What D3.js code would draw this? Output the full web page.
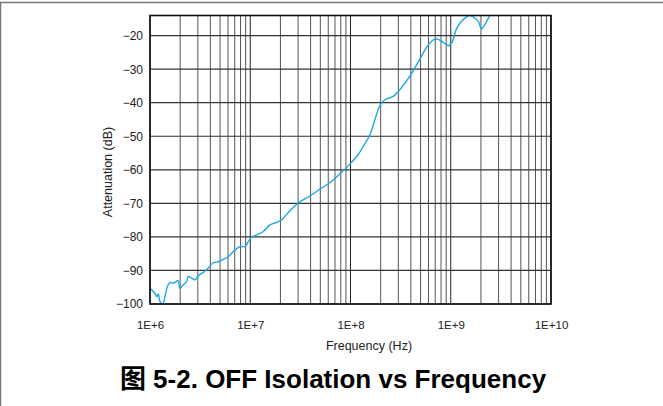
<!DOCTYPE html>
<html>
<head>
<meta charset="utf-8">
<script src="https://cdn.jsdelivr.net/npm/d3@7"></script>
<style>
  body { margin: 0; background: #fff; }
  svg { display: block; }
  text { font-family: "Liberation Sans", Arial, "Noto Sans CJK SC", sans-serif; }
</style>
</head>
<body>
<svg id="chart"></svg>
<script>
// frequency in Hz, attenuation in dB
const freqs = [
  1.00e6, 1.12e6, 1.17e6, 1.21e6, 1.26e6, 1.34e6, 1.41e6, 1.49e6, 1.58e6, 1.71e6,
  1.82e6, 1.91e6, 1.99e6, 2.15e6, 2.32e6, 2.41e6, 2.61e6, 2.81e6, 3.03e6, 3.40e6,
  3.81e6, 4.28e6, 4.80e6, 5.38e6, 6.04e6, 6.77e6, 7.89e6, 8.85e6, 9.55e6, 1.03e7,
  1.16e7, 1.35e7, 1.57e7, 1.83e7, 2.06e7, 2.49e7, 3.01e7, 3.94e7, 4.95e7, 6.24e7,
  7.84e7, 9.87e7, 1.19e8, 1.34e8, 1.56e8, 1.75e8, 1.96e8, 2.20e8, 2.67e8, 3.11e8,
  3.91e8, 4.92e8, 5.82e8, 6.68e8, 7.26e8, 7.96e8, 9.42e8, 1.02e9, 1.14e9, 1.28e9,
  1.44e9, 1.55e9, 1.67e9, 1.88e9, 2.03e9, 2.19e9, 2.45e9
];
const attenuation = [
  -95.3, -96.8, -97.8, -97.0, -99.3, -100, -97.8, -94.8, -93.6, -93.8,
  -93.3, -93.0, -95.3, -94.3, -93.3, -91.8, -92.3, -92.8, -91.6, -90.6,
  -89.3, -87.7, -87.4, -86.7, -85.9, -84.4, -82.9, -82.9, -81.4, -80.1,
  -79.4, -78.4, -76.4, -75.7, -74.9, -72.2, -69.9, -67.8, -65.8, -63.8,
  -61.2, -58.3, -55.5, -53.0, -49.6, -45.1, -40.9, -39.1, -38.1, -36.1,
  -32.1, -27.0, -23.2, -21.3, -21.0, -21.5, -23.0, -22.2, -18.0, -15.7,
  -14.4, -14.0, -14.4, -15.7, -18.0, -16.7, -14.0
];
const xTicks = [1e6, 1e7, 1e8, 1e9, 1e10];
const xTickLabels = ["1E+6", "1E+7", "1E+8", "1E+9", "1E+10"];
const yTicks = [-100, -90, -80, -70, -60, -50, -40, -30, -20];

const width = 663, height = 406;
const margin = { top: 15.5, left: 150, right: 112, bottom: 102 };

const svg = d3.select("#chart")
    .attr("width", width)
    .attr("height", height);

// outer figure frame
svg.append("rect")
    .attr("x", 0.5).attr("y", 2.5)
    .attr("width", width + 10).attr("height", height + 10)
    .attr("fill", "none")
    .attr("stroke", "#777")
    .attr("stroke-width", 1.5);

const x = d3.scaleLog()
    .domain([1e6, 1e10])
    .range([margin.left, width - margin.right]);

const y = d3.scaleLinear()
    .domain([-100, -14])
    .range([height - margin.bottom, margin.top]);

// vertical grid: 2..9 in each decade, then the decades
const minor = [];
for (let e = 6; e < 10; e++) {
    for (let k = 2; k <= 9; k++) minor.push(k * Math.pow(10, e));
}
const grid = svg.append("g");
grid.selectAll(".vminor")
    .data(minor)
    .join("line")
    .attr("x1", d => x(d)).attr("x2", d => x(d))
    .attr("y1", y.range()[1]).attr("y2", y.range()[0])
    .attr("stroke", "#555")
    .attr("stroke-width", 1);

grid.selectAll(".vmajor")
    .data(xTicks)
    .join("line")
    .attr("x1", d => x(d)).attr("x2", d => x(d))
    .attr("y1", y.range()[1]).attr("y2", y.range()[0])
    .attr("stroke", "#222")
    .attr("stroke-width", 1);

grid.selectAll(".hline")
    .data(yTicks)
    .join("line")
    .attr("x1", x.range()[0]).attr("x2", x.range()[1])
    .attr("y1", d => y(d)).attr("y2", d => y(d))
    .attr("stroke", "#333")
    .attr("stroke-width", 1.2);

// curve
const pts = freqs.map((f, i) => [f, attenuation[i]]);
svg.append("clipPath").attr("id", "clip")
    .append("rect")
    .attr("x", x.range()[0]).attr("y", y.range()[1])
    .attr("width", x.range()[1] - x.range()[0])
    .attr("height", y.range()[0] - y.range()[1]);

svg.append("path")
    .datum(pts)
    .attr("clip-path", "url(#clip)")
    .attr("fill", "none")
    .attr("stroke", "#1aa8e6")
    .attr("stroke-width", 1.4)
    .attr("stroke-linejoin", "round")
    .attr("d", d3.line().x(d => x(d[0])).y(d => y(d[1])).curve(d3.curveCatmullRom.alpha(0.5)));

// plot border
svg.append("rect")
    .attr("x", x.range()[0]).attr("y", y.range()[1])
    .attr("width", x.range()[1] - x.range()[0])
    .attr("height", y.range()[0] - y.range()[1])
    .attr("fill", "none")
    .attr("stroke", "#111")
    .attr("stroke-width", 1.6);

// axes (labels only)
const xAxis = d3.axisBottom(x)
    .tickValues(xTicks)
    .tickFormat((d, i) => xTickLabels[i])
    .tickSize(0)
    .tickPadding(17);
svg.append("g")
    .attr("transform", `translate(0,${y.range()[0]})`)
    .call(xAxis)
    .call(g => g.select(".domain").remove())
    .selectAll("text")
    .attr("font-family", "Liberation Sans, Arial, sans-serif")
    .attr("font-size", 11.5)
    .attr("fill", "#222");

const yAxis = d3.axisLeft(y)
    .tickValues(yTicks)
    .tickFormat(d => d3.format("")(d).replace("-", "\u2212"))
    .tickSize(0)
    .tickPadding(7);
svg.append("g")
    .attr("transform", `translate(${x.range()[0]},0)`)
    .call(yAxis)
    .call(g => g.select(".domain").remove())
    .selectAll("text")
    .attr("font-family", "Liberation Sans, Arial, sans-serif")
    .attr("font-size", 12)
    .attr("fill", "#222");

svg.append("text")
    .attr("x", 369)
    .attr("y", 350)
    .attr("text-anchor", "middle")
    .attr("font-size", 12.5)
    .attr("fill", "#222")
    .text("Frequency (Hz)");

svg.append("text")
    .attr("transform", "translate(112,172) rotate(-90)")
    .attr("text-anchor", "middle")
    .attr("font-size", 12.5)
    .attr("fill", "#222")
    .text("Attenuation (dB)");

svg.append("text")
    .attr("x", 333)
    .attr("y", 388)
    .attr("text-anchor", "middle")
    .attr("font-size", 26)
    .attr("font-weight", "bold")
    .attr("fill", "#000")
    .text("图 5-2. OFF Isolation vs Frequency");
</script>
</body>
</html>
